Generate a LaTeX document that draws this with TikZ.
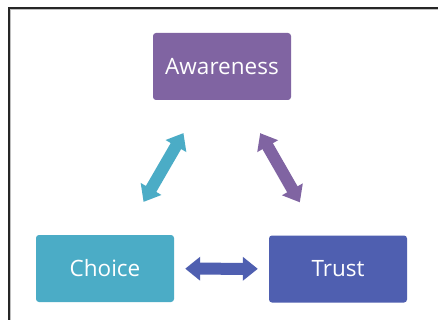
\documentclass[tikz,border=0pt]{standalone}
\usepackage{fontspec}
\setmainfont{Open Sans}
\usetikzlibrary{arrows.meta}
\definecolor{awarecol}{HTML}{8064A2}
\definecolor{choicecol}{HTML}{4BACC6}
\definecolor{trustcol}{HTML}{4F5FB0}
\begin{document}
\begin{tikzpicture}[x=1pt,y=-1pt,
  box/.style={rounded corners=3pt, minimum width=138pt, minimum height=67pt, text=white, font=\fontsize{22.5}{26}\selectfont, inner sep=0pt},
  dbl/.style={line width=12pt, {Triangle[width=23pt,length=15pt]}-{Triangle[width=23pt,length=15pt]}}]
\useasboundingbox (0,0) rectangle (438,320);
\fill[white] (0,0) rectangle (438,320);
\draw[line width=2pt, black!85] (9,320) -- (9,8) -- (438,8);
\draw[gray!50, line width=0.7pt] (10.6,320) -- (10.6,9.6) -- (438,9.6);
\node[box, fill=awarecol] (aw) at (222,66.5) {Awareness};
\node[box, fill=choicecol] (ch) at (105,268.5) {Choice};
\node[box, fill=trustcol] (tr) at (338,269) {Trust};
\draw[dbl, choicecol, shorten <=38pt, shorten >=38pt] (ch) -- (aw);
\draw[dbl, awarecol, shorten <=38pt, shorten >=38pt] (aw) -- (tr);
\draw[dbl, trustcol, shorten <=11pt, shorten >=11pt] (ch) -- (tr);
\end{tikzpicture}
\end{document}
